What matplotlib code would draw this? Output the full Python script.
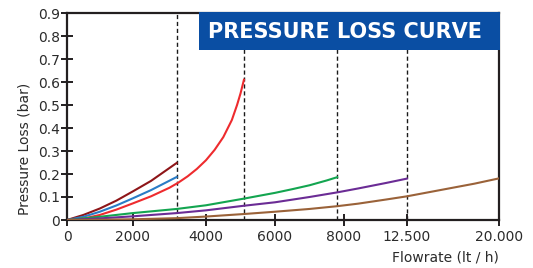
import numpy as np
import matplotlib
matplotlib.use("Agg")
import matplotlib.pyplot as plt
from matplotlib.patches import Rectangle

# Flowrate ticks and their (uneven) spacing on the original chart
tick_values = [0, 2000, 4000, 6000, 8000, 12500, 20000]
tick_labels = ['0', '2000', '4000', '6000', '8000', '12.500', '20.000']
tick_spacing = [0, 65.7, 139, 208, 277, 340, 432]

y_ticks = [0, 0.1, 0.2, 0.3, 0.4, 0.5, 0.6, 0.7, 0.8, 0.9]
y_labels = ['0', '0.1', '0.2', '0.3', '0.4', '0.5', '0.6', '0.7', '0.8', '0.9']

# Max flow for each valve size (dashed lines)
limits = [3200, 5100, 7800, 12500]

# Pressure loss curves (flow lt/h, loss bar)
darkred_x = [0, 500, 1000, 1500, 2000, 2500, 3200]
darkred_y = [0, 0.022, 0.05, 0.084, 0.124, 0.17, 0.248]

blue_x = [0, 500, 1000, 1500, 2000, 2500, 3200]
blue_y = [0, 0.014, 0.036, 0.063, 0.094, 0.13, 0.187]

red_x = [0, 500, 1000, 1500, 2000, 2500, 3000, 3250, 3500, 3750, 4000, 4250, 4500, 4750, 4900, 5000, 5100]
red_y = [0, 0.006, 0.022, 0.045, 0.072, 0.103, 0.14, 0.163, 0.19, 0.222, 0.26, 0.305, 0.36, 0.435, 0.5, 0.55, 0.61]

green_x = [0, 1000, 2000, 3200, 4000, 5100, 6000, 6500, 7000, 7500, 7800]
green_y = [0, 0.014, 0.03, 0.048, 0.064, 0.093, 0.118, 0.134, 0.151, 0.172, 0.186]

purple_x = [0, 1000, 2000, 3200, 4000, 5100, 6000, 7000, 7800, 9000, 10000, 11000, 12500]
purple_y = [0, 0.007, 0.016, 0.03, 0.042, 0.062, 0.077, 0.1, 0.12, 0.137, 0.149, 0.161, 0.18]

brown_x = [0, 1000, 2000, 3200, 4000, 5100, 6000, 7000, 7800, 9000, 10000, 11000, 12500, 14000, 16000, 18000, 20000]
brown_y = [0, 0.001, 0.003, 0.008, 0.015, 0.026, 0.036, 0.048, 0.06, 0.071, 0.08, 0.089, 0.103, 0.118, 0.138, 0.158, 0.181]


def forward(x):
    return np.interp(x, tick_values, tick_spacing)


def inverse(p):
    return np.interp(p, tick_spacing, tick_values)


plt.rcParams['font.family'] = 'DejaVu Sans'
text_color = '#2b2b2b'

fig = plt.figure(figsize=(5.33, 2.68), dpi=100)
ax = fig.add_axes([67 / 533, 1 - 220 / 268, 432 / 533, 207 / 268])
ax.set_xscale('function', functions=(forward, inverse))

# dashed limit lines
for x in limits:
    ax.axvline(x, color='#1a1a1a', lw=1.0, ls=(0, (3, 2)), zorder=1)

ax.plot(darkred_x, darkred_y, color='#8e1518', lw=1.5, zorder=3)
ax.plot(blue_x, blue_y, color='#2a7cc6', lw=1.5, zorder=3)
ax.plot(red_x, red_y, color='#ee2b2e', lw=1.5, zorder=3)
ax.plot(green_x, green_y, color='#13a550', lw=1.5, zorder=3)
ax.plot(purple_x, purple_y, color='#6b2c95', lw=1.5, zorder=3)
ax.plot(brown_x, brown_y, color='#9a6239', lw=1.5, zorder=3)

ax.set_xlim(0, 20000)
ax.set_ylim(0, 0.9)
ax.set_xticks(tick_values)
ax.set_xticklabels(tick_labels)
ax.set_yticks(y_ticks)
ax.set_yticklabels(y_labels)
ax.minorticks_off()

for s in ax.spines.values():
    s.set_linewidth(1.6)
    s.set_color('#231f20')

ax.tick_params(axis='both', direction='inout', length=8, width=1.4,
               color='#231f20', labelsize=10, labelcolor=text_color)
ax.tick_params(axis='x', pad=3)
ax.tick_params(axis='y', pad=1)

ax.set_ylabel('Pressure Loss (bar)', fontsize=10, color=text_color)
ax.yaxis.set_label_coords(-0.083, 0.343)
ax.set_xlabel('Flowrate (lt / h)', fontsize=10, color=text_color, loc='right', labelpad=5)

# title box
x0 = (199 - 67) / 432
ax.add_patch(Rectangle((x0, 1 - 37 / 207), 1.003 - x0, 37 / 207 + 0.005,
                       transform=ax.transAxes, facecolor='#0a4ea3',
                       edgecolor='none', zorder=5, clip_on=False))
ax.text((x0 + 1) / 2 - 0.01, 1 - 18.5 / 207, 'PRESSURE LOSS CURVE',
        transform=ax.transAxes, ha='center', va='center', color='white',
        fontsize=15, fontweight='bold', zorder=6)

fig.savefig('out.png', dpi=100)
